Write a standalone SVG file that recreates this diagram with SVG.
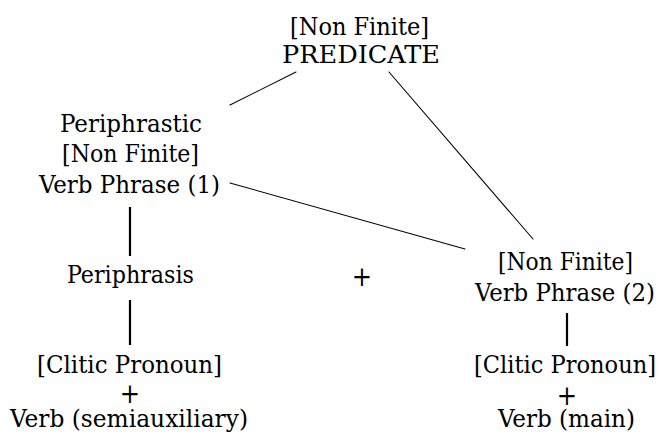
<svg xmlns="http://www.w3.org/2000/svg" width="660" height="436" viewBox="0 0 660 436">
  <style>
    text { font-family: "DejaVu Serif Condensed", "DejaVu Serif", "Liberation Serif", serif; font-size: 24px; fill: #000; text-anchor: middle; }
    .edge { stroke: #000; stroke-width: 1.1; fill: none; stroke-linecap: round; }
    .stem { stroke: #000; stroke-width: 2.2; fill: none; }
    .op { font-size: 27px; }
  </style>
  <rect width="660" height="436" fill="#fff"/>

  <!-- connectors -->
  <g id="connectors">
    <path class="edge" d="M296,72 L230,105"/>
    <path class="edge" d="M389,72 L533,239"/>
    <path class="edge" d="M230,183 L465,249"/>
    <path class="stem" d="M130,207 V256"/>
    <path class="stem" d="M130,300 V345"/>
    <path class="stem" d="M567,313 V346"/>
  </g>

  <!-- nodes -->
  <g id="predicate">
    <text x="359.5" y="35" textLength="139" lengthAdjust="spacingAndGlyphs">[Non Finite]</text>
    <text x="361" y="63" textLength="158" lengthAdjust="spacingAndGlyphs">PREDICATE</text>
  </g>

  <g id="vp1">
    <text x="131" y="132" textLength="142" lengthAdjust="spacingAndGlyphs">Periphrastic</text>
    <text x="130.5" y="162" textLength="137" lengthAdjust="spacingAndGlyphs">[Non Finite]</text>
    <text x="129.5" y="193" textLength="181" lengthAdjust="spacingAndGlyphs">Verb Phrase (1)</text>
  </g>

  <g id="periphrasis">
    <text x="130.5" y="283" textLength="127" lengthAdjust="spacingAndGlyphs">Periphrasis</text>
  </g>

  <g id="semiaux">
    <text x="129.5" y="372.5" textLength="185" lengthAdjust="spacingAndGlyphs">[Clitic Pronoun]</text>
    <text class="op" x="130" y="403">+</text>
    <text x="129" y="427" textLength="238" lengthAdjust="spacingAndGlyphs">Verb (semiauxiliary)</text>
  </g>

  <g id="plus">
    <text class="op" x="362" y="286">+</text>
  </g>

  <g id="vp2">
    <text x="565.5" y="269.5" textLength="135" lengthAdjust="spacingAndGlyphs">[Non Finite]</text>
    <text x="565" y="301" textLength="180" lengthAdjust="spacingAndGlyphs">Verb Phrase (2)</text>
  </g>

  <g id="main">
    <text x="565" y="373" textLength="182" lengthAdjust="spacingAndGlyphs">[Clitic Pronoun]</text>
    <text class="op" x="567" y="404.5">+</text>
    <text x="566.5" y="427" textLength="137" lengthAdjust="spacingAndGlyphs">Verb (main)</text>
  </g>
</svg>
